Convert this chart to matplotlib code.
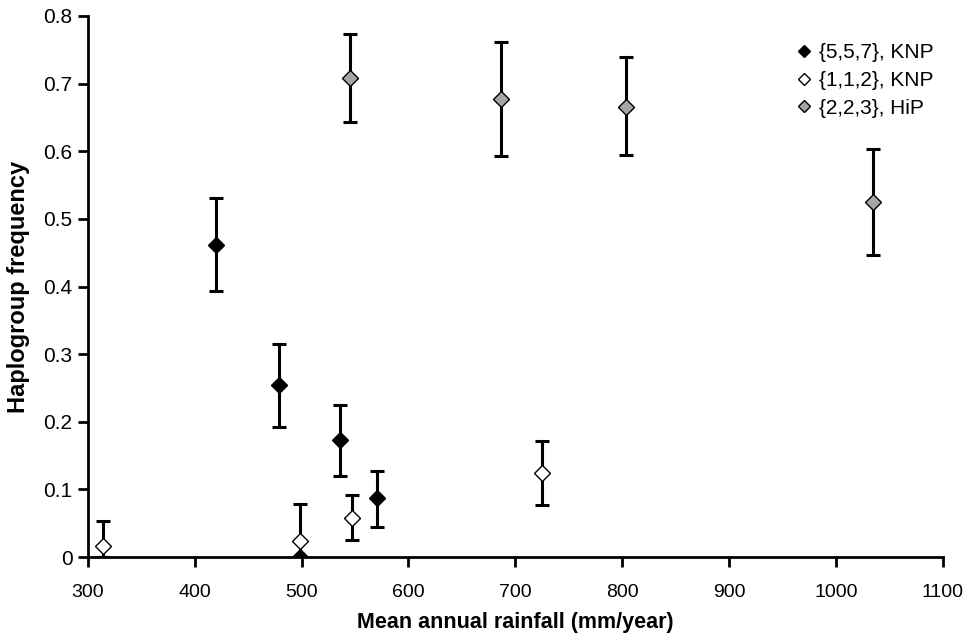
import matplotlib.pyplot as plt

plt.rcParams['font.family'] = ['Liberation Sans', 'DejaVu Sans']

# {5,5,7}, KNP
knp557_x = [420, 479, 536, 571, 499]
knp557_y = [0.462, 0.255, 0.173, 0.087, 0.0]
knp557_lo = [0.069, 0.062, 0.053, 0.042, 0.0]
knp557_hi = [0.069, 0.060, 0.052, 0.041, 0.0]

# {1,1,2}, KNP
knp112_x = [314, 499, 547, 725]
knp112_y = [0.016, 0.024, 0.058, 0.124]
knp112_lo = [0.016, 0.024, 0.032, 0.047]
knp112_hi = [0.037, 0.054, 0.034, 0.048]

# {2,2,3}, HiP
hip_x = [545, 687, 804, 1035]
hip_y = [0.708, 0.677, 0.666, 0.525]
hip_lo = [0.065, 0.084, 0.072, 0.079]
hip_hi = [0.065, 0.085, 0.073, 0.079]

fig = plt.figure(figsize=(9.65, 6.36), dpi=100)
ax = fig.add_axes([0.091, 0.124, 0.886, 0.851])

series = [
    (knp557_x, knp557_y, knp557_lo, knp557_hi, 'black', '{5,5,7}, KNP'),
    (knp112_x, knp112_y, knp112_lo, knp112_hi, 'white', '{1,1,2}, KNP'),
    (hip_x, hip_y, hip_lo, hip_hi, '#a6a6a6', '{2,2,3}, HiP'),
]
for x, y, lo, hi, fc, lab in series:
    ax.errorbar(x, y, yerr=[lo, hi], fmt='none', ecolor='black',
                elinewidth=2.2, capsize=5, capthick=2.2, zorder=2)
    ax.plot(x, y, 'D', ms=8, mfc=fc, mec='black', mew=1, ls='none',
            label=lab, zorder=3)

ax.set_xlim(300, 1100)
ax.set_ylim(0, 0.8)
ax.set_xticks(range(300, 1101, 100))
ax.set_yticks([i / 10 for i in range(9)])
ax.set_yticklabels(['0'] + ['%.1f' % (i / 10) for i in range(1, 9)])
ax.spines['top'].set_visible(False)
ax.spines['right'].set_visible(False)
for s in ['left', 'bottom']:
    ax.spines[s].set_linewidth(2)
ax.tick_params(direction='out', length=7, width=2)
ax.tick_params(axis='x', pad=12, labelsize=14)
ax.tick_params(axis='y', pad=4, labelsize=15)
ax.set_xlabel('Mean annual rainfall (mm/year)', fontsize=15.5, fontweight='bold',
              labelpad=8)
ax.set_ylabel('Haplogroup frequency', fontsize=17, fontweight='bold',
              labelpad=10)

leg = ax.legend(loc='upper right', frameon=False, fontsize=15,
                handlelength=0.6, handletextpad=0.4, labelspacing=0.42,
                markerscale=0.8, borderaxespad=0, bbox_to_anchor=(0.999, 0.965))

fig.savefig('out.png', dpi=100)
